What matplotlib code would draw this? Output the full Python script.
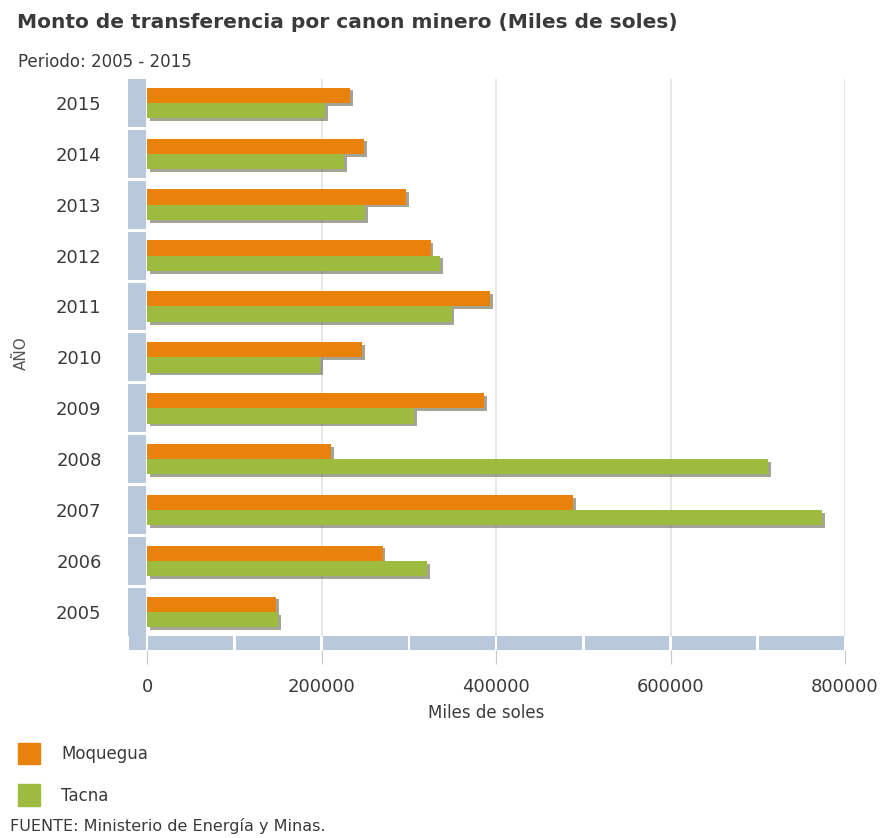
import matplotlib
matplotlib.use("Agg")
import matplotlib.pyplot as plt
import matplotlib.patheffects as pe
from matplotlib.patches import Rectangle, Patch
import numpy as np

years = [2005, 2006, 2007, 2008, 2009, 2010, 2011, 2012, 2013, 2014, 2015]
moquegua = [148000, 270000, 488000, 211000, 386000, 246000, 393000, 325000, 297000, 249000, 233000]
tacna = [150000, 321000, 774000, 712000, 306000, 198000, 349000, 336000, 250000, 226000, 204000]
xticks = [0, 200000, 400000, 600000, 800000]

orange = "#e8820a"
green = "#9dbb3e"
wall = "#b9c9db"
txt = "#3a3a3a"

plt.rcParams['font.family'] = ['DejaVu Sans']
fig = plt.figure(figsize=(8.91, 8.38), dpi=100)
ax = fig.add_axes([128/891, 1-650/838, (845-128)/891, (650-79)/838])

y = np.arange(len(years))
h = 0.30
shadow = [pe.SimplePatchShadow(offset=(2, -2), shadow_rgbFace="#5a5a40", alpha=0.55), pe.Normal()]
ax.barh(y + h/2, moquegua, height=h, color=orange, path_effects=shadow, zorder=3)
ax.barh(y - h/2, tacna, height=h, color=green, path_effects=shadow, zorder=3)

xmin = -22000
ax.set_xlim(xmin, 800000)
ax.set_ylim(-0.75, len(years) - 0.53)

# grid lines
for xt in xticks[1:]:
    ax.plot([xt, xt], [-0.47, len(years) - 0.53], color="#e3e3e3", lw=1.2, zorder=1)

# left wall, one block per year
for i in y:
    ax.add_patch(Rectangle((xmin, i - 0.47), -xmin - 1500, 0.94, color=wall, zorder=2, lw=0))
# bottom wall, blocks every 100000
edges = [xmin] + list(range(0, 800001, 100000))
for a, b in zip(edges[:-1], edges[1:]):
    ax.add_patch(Rectangle((a + 1500, -0.75), b - a - 3000, 0.28, color=wall, zorder=2, lw=0))

for s in ax.spines.values():
    s.set_visible(False)
ax.set_yticks(y)
ax.set_yticklabels([str(v) for v in years], fontsize=13, color=txt)
ax.set_xticks(xticks)
ax.set_xticklabels([str(v) for v in xticks], fontsize=13, color=txt)
ax.tick_params(axis='y', length=0, pad=19)
ax.tick_params(axis='x', length=10, color="#c8c8c8", pad=10)

ax.set_xlabel("Miles de soles", fontsize=12, color=txt, labelpad=6)
ax.set_ylabel("AÑO", fontsize=11, color="#555555")
ax.yaxis.set_label_coords(-0.138, 0.52)

fig.text(17/891, 1-23/838, "Monto de transferencia por canon minero (Miles de soles)",
         fontsize=14.5, fontweight='bold', color=txt, va='center', ha='left')
fig.text(18/891, 1-62/838, "Periodo: 2005 - 2015", fontsize=12, color=txt, va='center', ha='left')
fig.text(10/891, 1-826/838, "FUENTE: Ministerio de Energía y Minas.", fontsize=11.5, color=txt,
         va='center', ha='left')

handles = [Patch(color=orange, label="Moquegua"), Patch(color=green, label="Tacna")]
leg = fig.legend(handles=handles, loc='upper left', bbox_to_anchor=(3/891, 1-728/838),
                 frameon=False, fontsize=12, handlelength=1.3, handleheight=1.6,
                 labelspacing=1.2, handletextpad=1.3)
for t in leg.get_texts():
    t.set_color(txt)

fig.savefig("out.png", dpi=100, facecolor="white")
